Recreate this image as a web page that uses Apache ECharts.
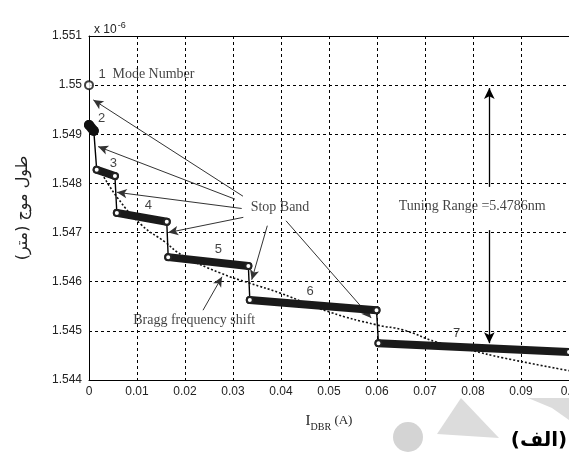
<!DOCTYPE html>
<html><head><meta charset="utf-8">
<script src="https://cdn.jsdelivr.net/npm/echarts@6/dist/echarts.min.js"></script>
<style>html,body{margin:0;padding:0;background:#fff;}#c{width:569px;height:461px;}</style>
</head><body><div id="c"></div>
<script>
// Wavelength in units of 1e-6 m, DBR current in A
const mode1X = [0];
const mode1Y = [1.5500];
const modeLabels = ['2', '3', '4', '5', '6', '7'];
const modeStartX = [0.0000, 0.0016, 0.0058, 0.0165, 0.0335, 0.0603];
const modeStartY = [1.54919, 1.54828, 1.54740, 1.54650, 1.54563, 1.54475];
const modeEndX   = [0.0010, 0.0054, 0.0162, 0.0332, 0.0599, 0.1000];
const modeEndY   = [1.54907, 1.54815, 1.54722, 1.54632, 1.54542, 1.54457];
const modeLabelX = [0.00265, 0.00506, 0.01235, 0.02694, 0.04604, 0.0766];
const modeLabelY = [1.54933, 1.54841, 1.54755, 1.54666, 1.54580, 1.54495];
const braggX = [0.0023, 0.0060, 0.0110, 0.0158, 0.0194, 0.0273, 0.0335, 0.0398, 0.0502, 0.0600, 0.0654, 0.0725, 0.0794, 0.0863, 0.1000];
const braggY = [1.54827, 1.54770, 1.54715, 1.54681, 1.54654, 1.54618, 1.54597, 1.54577, 1.54538, 1.54512, 1.54502, 1.54477, 1.54461, 1.54445, 1.54419];
const stopFromX = [0.03208, 0.03042, 0.03181, 0.03215, 0.03715, 0.04104];
const stopFromY = [1.54774, 1.54768, 1.54749, 1.54731, 1.54714, 1.54724];
const stopToX   = [0.0009, 0.0019, 0.0058, 0.0165, 0.0339, 0.0588];
const stopToY   = [1.54970, 1.54875, 1.54782, 1.54700, 1.54604, 1.54526];
const braggArrowX = [0.02375, 0.02771];
const braggArrowY = [1.54542, 1.54610];
const tuningX = 0.0834;
const tuningUpY = [1.54793, 1.54994];
const tuningDownY = [1.54705, 1.54475];
const noteTexts = ['Stop Band', 'Tuning Range =5.4786nm', 'Bragg frequency shift'];
const noteX = [0.03979, 0.07983, 0.02192];
const noteY = [1.54751, 1.54753, 1.54522];
const modeNumberNoteX = 0.01198, modeNumberNoteY = 1.55021;
const xMin = 0, xMax = 0.1, xStep = 0.01;
const yMin = 1.544, yMax = 1.551, yStep = 0.001;

const chart = echarts.init(document.getElementById('c'), null, {renderer: 'canvas'});

const trace = [];
const bands = [];
for (let i = 0; i < modeStartX.length; i++) {
  trace.push([modeStartX[i], modeStartY[i]], [modeEndX[i], modeEndY[i]]);
  if (i > 0) {
    bands.push([modeStartX[i], modeStartY[i]], [modeEndX[i], modeEndY[i]]);
    if (i < modeStartX.length - 1) bands.push('-');
  }
}
const blob = [[modeStartX[0], modeStartY[0]], [modeEndX[0], modeEndY[0]]];
const arrowLines = [];
for (let i = 0; i < stopFromX.length; i++) {
  arrowLines.push([{coord: [stopFromX[i], stopFromY[i]]}, {coord: [stopToX[i], stopToY[i]]}]);
}
arrowLines.push([{coord: [braggArrowX[0], braggArrowY[0]]}, {coord: [braggArrowX[1], braggArrowY[1]]}]);
const tuningLines = [
  [{coord: [tuningX, tuningUpY[0]]}, {coord: [tuningX, tuningUpY[1]]}],
  [{coord: [tuningX, tuningDownY[0]]}, {coord: [tuningX, tuningDownY[1]]}]
];
const serif = 'Liberation Serif';
const sans = 'Liberation Sans';
const textItems = [];
for (let i = 0; i < modeLabels.length; i++) {
  textItems.push({value: [modeLabelX[i], modeLabelY[i]], label: {formatter: modeLabels[i], fontFamily: sans, fontSize: 13}});
}
for (let i = 0; i < noteTexts.length; i++) {
  textItems.push({value: [noteX[i], noteY[i]], label: {formatter: noteTexts[i], fontFamily: serif, fontSize: 14}});
}
textItems.push({value: [modeNumberNoteX, modeNumberNoteY], label: {formatter: '{a|1}  {b|Mode Number}'}});

const dash = [3, 3];
chart.setOption({
  animation: false,
  backgroundColor: '#fff',
  title: {
    text: '{a|x 10}{b|-6}', left: 89, top: 16,
    textStyle: {fontWeight: 'normal', rich: {
      a: {fontFamily: sans, fontSize: 12, color: '#222', fontWeight: 'normal'},
      b: {fontFamily: sans, fontSize: 9, color: '#222', fontWeight: 'normal', padding: [0, 0, 9, 1]}
    }}
  },
  grid: {left: 89, top: 36, width: 480, height: 344, containLabel: false, outerBoundsMode: 'none'},
  xAxis: [{
    type: 'value', min: xMin, max: xMax, interval: xStep, position: 'bottom',
    axisLine: {show: true, onZero: false, lineStyle: {color: '#000', width: 1}},
    axisTick: {show: false},
    axisLabel: {fontFamily: sans, fontSize: 12, color: '#222', margin: 6, showMaxLabel: true, hideOverlap: false},
    splitLine: {show: true, lineStyle: {color: '#000', type: dash, width: 1}},
    name: '{i|I}{s|DBR}{n| (A)}', nameLocation: 'middle', nameGap: 30,
    nameTextStyle: {rich: {
      i: {fontFamily: serif, fontSize: 15, color: '#222'},
      s: {fontFamily: serif, fontSize: 10, color: '#222', padding: [12, 0, 0, 0]},
      n: {fontFamily: serif, fontSize: 13, color: '#222'}
    }}
  }, {
    type: 'value', min: xMin, max: xMax, interval: xStep, position: 'top',
    axisLine: {show: true, onZero: false, lineStyle: {color: '#000', width: 1}},
    axisTick: {show: false}, axisLabel: {show: false}, splitLine: {show: false}
  }],
  yAxis: {
    type: 'value', min: yMin, max: yMax, interval: yStep,
    axisLine: {show: true, onZero: false, lineStyle: {color: '#000', width: 1}},
    axisTick: {show: false},
    axisLabel: {fontFamily: sans, fontSize: 12, color: '#222', margin: 7,
      formatter: v => String(+v.toFixed(3))},
    splitLine: {show: true, lineStyle: {color: '#000', type: dash, width: 1}},
    name: 'طول موج (متر)', nameLocation: 'middle', nameRotate: 90, nameGap: 58,
    nameTextStyle: {fontFamily: 'DejaVu Sans', fontSize: 16, color: '#222'}
  },
  series: [
    {
      type: 'line', name: 'bragg', data: braggX.map((x, i) => [x, braggY[i]]),
      symbol: 'none', smooth: true, lineStyle: {color: '#111', width: 1.6, type: [2, 2]}, z: 3
    },
    {
      type: 'line', name: 'trace', data: trace, symbol: 'none',
      lineStyle: {color: '#000', width: 1.4}, z: 4
    },
    {
      type: 'line', name: 'modes', data: bands, connectNulls: false,
      symbol: 'emptyCircle', symbolSize: 6,
      itemStyle: {color: '#222', borderWidth: 1.5},
      lineStyle: {color: '#1a1a1a', width: 8, cap: 'round'}, z: 5
    },
    {
      type: 'line', name: 'mode2', data: blob, symbol: 'circle', symbolSize: 10,
      itemStyle: {color: '#111'},
      lineStyle: {color: '#111', width: 10, cap: 'round'}, z: 5
    },
    {
      type: 'scatter', name: 'mode1', data: mode1X.map((x, i) => [x, mode1Y[i]]),
      symbol: 'emptyCircle', symbolSize: 8, clip: false,
      itemStyle: {color: '#111', borderWidth: 1.6}, z: 8
    },
    {
      type: 'line', name: 'arrows', data: [], symbol: 'none',
      markLine: {
        silent: true, animation: false, symbol: ['none', 'arrow'], symbolSize: [7, 10],
        label: {show: false}, lineStyle: {color: '#333', width: 1, type: 'solid'},
        emphasis: {disabled: true},
        data: arrowLines
      }
    },
    {
      type: 'line', name: 'tuning', data: [], symbol: 'none',
      markLine: {
        silent: true, animation: false, symbol: ['none', 'arrow'], symbolSize: [8, 11],
        label: {show: false}, lineStyle: {color: '#000', width: 1.3, type: 'solid'},
        emphasis: {disabled: true},
        data: tuningLines
      }
    },
    {
      type: 'scatter', name: 'texts', data: textItems, symbolSize: 1,
      itemStyle: {color: 'transparent'}, z: 10, silent: true,
      label: {show: true, position: 'inside', color: '#111',
        rich: {
          a: {fontFamily: sans, fontSize: 13, color: '#111'},
          b: {fontFamily: serif, fontSize: 14, color: '#111'}
        }}
    }
  ],
  graphic: [
    {type: 'circle', shape: {cx: 408, cy: 437, r: 15}, style: {fill: '#d4d4d4'}, z: -1},
    {type: 'polygon', shape: {points: [[437, 434], [461, 398], [499, 438]]}, style: {fill: '#dcdcdc'}, z: -1},
    {type: 'polygon', shape: {points: [[528, 398], [569, 398], [569, 420], [552, 408]]}, style: {fill: '#dcdcdc'}, z: -1},
    {type: 'text', x: 539, y: 441, style: {text: '(الف)', font: 'bold 20px "DejaVu Sans"', fill: '#000', align: 'center', verticalAlign: 'middle'}, z: 5}
  ]
});
</script></body></html>
